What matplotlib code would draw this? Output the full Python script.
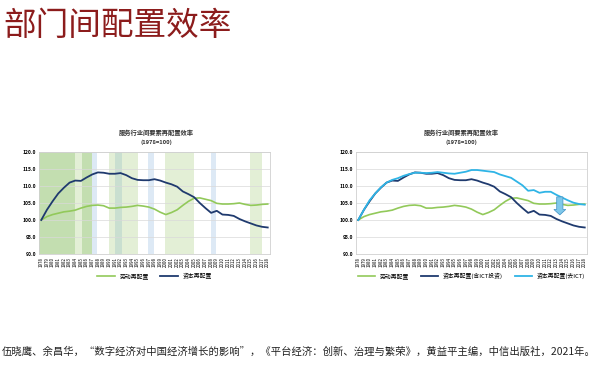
import matplotlib
matplotlib.use("Agg")
import matplotlib.pyplot as plt
import numpy as np

plt.rcParams['font.family'] = ['Noto Sans CJK SC', 'DejaVu Sans']

years = list(range(1978, 2019))
labor = [100.0, 101.0, 101.6, 102.0, 102.4, 102.6, 102.9, 103.5, 104.0, 104.3,
         104.4, 104.2, 103.5, 103.5, 103.7, 103.8, 104.0, 104.3, 104.1, 103.8,
         103.2, 102.3, 101.6, 102.2, 103.0, 104.3, 105.5, 106.4, 106.5, 106.1,
         105.7, 104.9, 104.7, 104.7, 104.8, 105.0, 104.6, 104.3, 104.4, 104.6, 104.7]
capital = [100.0, 103.0, 105.5, 107.8, 109.5, 111.0, 111.6, 111.5, 112.5, 113.4,
           114.0, 113.9, 113.6, 113.6, 113.8, 113.2, 112.3, 111.8, 111.7, 111.7,
           112.0, 111.6, 111.0, 110.5, 109.8, 108.4, 107.6, 106.7, 105.0, 103.5,
           102.1, 102.7, 101.6, 101.5, 101.2, 100.3, 99.6, 99.0, 98.4, 98.0, 97.8]
capital_ex_ict = [100.0, 103.0, 105.8, 107.8, 109.6, 111.0, 111.8, 112.3, 113.0, 113.5,
                  113.9, 113.9, 113.8, 113.9, 114.1, 113.9, 113.7, 113.6, 113.9, 114.2,
                  114.7, 114.7, 114.5, 114.3, 114.1, 113.4, 112.9, 112.4, 111.3, 110.2,
                  108.6, 108.8, 108.0, 108.3, 108.3, 107.4, 106.6, 105.8, 105.1, 104.7, 104.5]

# shaded periods (start, end, colour)
spans = [(1977.6, 1984.0, '#c3deb0'), (1984.0, 1985.2, '#e3efd6'), (1985.2, 1986.9, '#c3deb0'),
         (1986.9, 1987.8, '#dde9f5'), (1990.0, 1991.0, '#e3efd6'), (1991.0, 1992.2, '#c9dfd0'),
         (1992.2, 1995.1, '#e3efd6'), (1996.9, 1997.9, '#dde9f5'), (1999.8, 2005.0, '#e3efd6'),
         (2007.9, 2008.9, '#dde9f5'), (2014.9, 2017.0, '#e3efd6')]

title = '服务行业间要素再配置效率'
subtitle = '(1978=100)'
lab_labor = '劳动再配置'
lab_cap = '资本再配置'
lab_cap_ict = '资本再配置(含ICT投资)'
lab_cap_ex = '资本再配置(去ICT)'

green = '#92c95a'
navy = '#1f3a6e'
lightblue = '#2fb4e6'

fig = plt.figure(figsize=(6, 3.65), dpi=100)
fig.patch.set_facecolor('white')

fig.text(3/600, 1-26/365, '部门间配置效率', fontsize=23.5, color='#8c1c1c', va='center', ha='left')
fig.text(2/600, 1-352/365,
         '伍晓鹰、余昌华，“数字经济对中国经济增长的影响”，《平台经济：创新、治理与繁荣》，黄益平主编，中信出版社，2021年。',
         fontsize=7.45, color='#222222', va='center', ha='left')

def style(ax):
    ax.set_xlim(1977.6, 2018.4)
    ax.set_ylim(90, 120)
    ax.set_yticks(np.arange(90, 121, 5))
    ax.set_yticklabels(['%.1f' % v for v in np.arange(90, 121, 5)], fontsize=3.6, fontweight='bold')
    ax.set_xticks(years)
    ax.set_xticklabels([str(y) for y in years], rotation=90, fontsize=3.2)
    ax.tick_params(length=0, pad=2)
    ax.grid(axis='y', color='#d9d9d9', linewidth=0.5)
    ax.set_axisbelow(True)
    for s in ax.spines.values():
        s.set_color('#d0d0d0')
        s.set_linewidth(0.6)

ax1 = fig.add_axes([39/600, 1-254/365, 231/600, 102/365])
style(ax1)
for a, b, c in spans:
    ax1.axvspan(a, b, color=c, lw=0, zorder=0)
ax1.plot(years, labor, color=green, lw=1.2, label=lab_labor, zorder=3)
ax1.plot(years, capital, color=navy, lw=1.3, label=lab_cap, zorder=3)
ax1.legend(loc='center', bbox_to_anchor=(0.5, -0.215), ncol=2, frameon=False,
           fontsize=4.2, handlelength=3, columnspacing=2)

ax2 = fig.add_axes([356/600, 1-254/365, 231/600, 102/365])
style(ax2)
ax2.plot(years, labor, color=green, lw=1.2, label=lab_labor, zorder=3)
ax2.plot(years, capital, color=navy, lw=1.3, label=lab_cap_ict, zorder=3)
ax2.plot(years, capital_ex_ict, color=lightblue, lw=1.3, label=lab_cap_ex, zorder=3)
ax2.arrow(2013.6, 106.8, 0, -5.3, width=1.1, head_width=2.1, head_length=1.6,
          length_includes_head=True, fc='#7fc8ea', ec='#3d8fc4', lw=0.5, zorder=4)
ax2.legend(loc='center', bbox_to_anchor=(0.5, -0.215), ncol=3, frameon=False,
           fontsize=4.2, handlelength=3, columnspacing=2)

for cx in (156, 461):
    fig.text(cx/600, 1-133/365, title, fontsize=4.5, fontweight='bold', ha='center', va='center', color='#333333')
    fig.text(cx/600, 1-142/365, subtitle, fontsize=4.2, fontweight='bold', ha='center', va='center', color='#333333')

fig.savefig('out.png', dpi=100)
